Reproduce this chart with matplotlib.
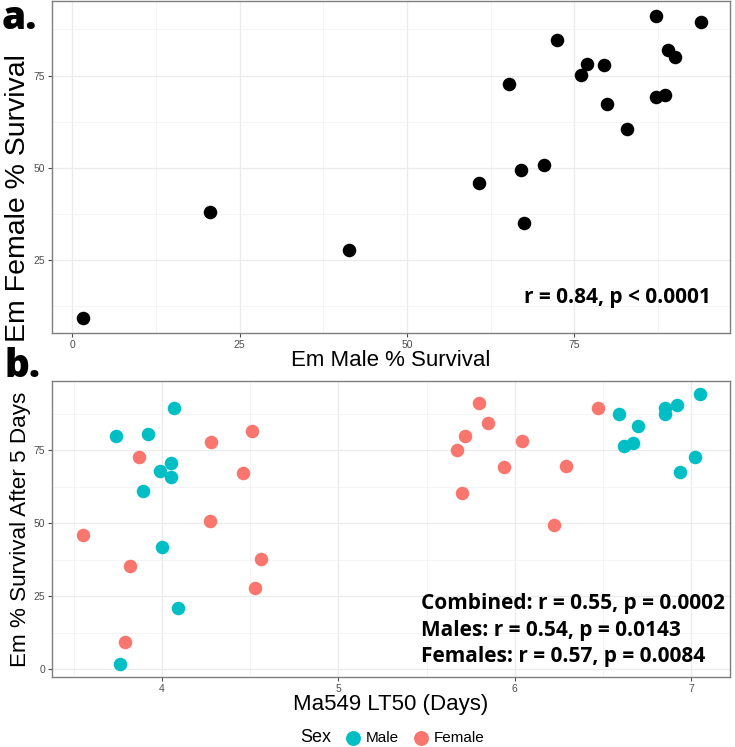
import numpy as np
import matplotlib.pyplot as plt
from matplotlib.ticker import MultipleLocator

# panel a: male vs female survival (%)
male_surv = [1.6, 20.6, 41.4, 87.1, 93.9, 72.4, 76.9, 79.4, 76.0, 89.0,
             90.0, 65.3, 87.1, 88.5, 79.8, 82.9, 70.4, 67.0, 60.7, 67.4]
female_surv = [9.3, 38.0, 27.6, 91.1, 89.5, 84.5, 78.1, 77.9, 75.1, 81.8,
               79.9, 72.7, 69.1, 69.7, 67.2, 60.4, 50.8, 49.5, 45.8, 35.1]

# panel b: LT50 vs survival by sex
male_lt50 = [4.07, 3.74, 3.92, 4.05, 3.99, 4.05, 3.89, 4.00, 4.09, 3.76,
             6.59, 6.70, 6.62, 6.67, 6.85, 6.85, 6.92, 7.05, 7.02, 6.94]
male_em = [89.4, 79.7, 80.4, 70.7, 67.7, 65.7, 61.1, 41.8, 20.9, 1.8,
           87.5, 83.3, 76.4, 77.4, 89.3, 87.5, 90.4, 94.3, 72.7, 67.4]
female_lt50 = [3.87, 4.28, 4.51, 4.46, 4.27, 3.55, 3.82, 4.56, 4.53, 3.79,
               5.80, 5.85, 5.72, 5.67, 6.04, 5.94, 6.29, 5.70, 6.22, 6.47]
female_em = [72.7, 77.8, 81.6, 67.1, 50.8, 45.9, 35.2, 37.8, 27.7, 9.4,
             91.0, 84.3, 79.7, 75.2, 78.2, 69.2, 69.5, 60.3, 49.5, 89.5]

stats_a = "r = 0.84, p < 0.0001"
stats_b = ["Combined: r = 0.55, p = 0.0002",
           "Males: r = 0.54, p = 0.0143",
           "Females: r = 0.57, p = 0.0084"]

MALE_C = "#00BFC4"
FEMALE_C = "#F8766D"
LABEL_FONT = ["Liberation Sans", "DejaVu Sans"]
BOLD_FONT = ["Open Sans", "DejaVu Sans"]


def style_axes(ax):
    ax.set_facecolor("white")
    ax.grid(True, which="major", color="#EBEBEB", linewidth=0.9, zorder=0)
    ax.grid(True, which="minor", color="#F2F2F2", linewidth=0.6, zorder=0)
    ax.set_axisbelow(True)
    for s in ax.spines.values():
        s.set_color("#7F7F7F")
        s.set_linewidth(1.0)
    ax.tick_params(which="major", length=3, width=0.8, color="#4D4D4D",
                   labelsize=7.5, labelcolor="#4D4D4D", pad=2)
    ax.tick_params(which="minor", length=0)
    for lab in ax.get_xticklabels() + ax.get_yticklabels():
        lab.set_family(LABEL_FONT)


fig = plt.figure(figsize=(7.35, 7.47), dpi=100)

# ---- panel a ----
ax1 = fig.add_axes([0.0707, 0.554, 0.9223, 0.4447])
ax1.scatter(male_surv, female_surv, s=95, color="black", zorder=3, linewidths=0)
ax1.set_xlim(-3.0, 98.2)
ax1.set_ylim(5.2, 95.2)
ax1.xaxis.set_major_locator(MultipleLocator(25))
ax1.xaxis.set_minor_locator(MultipleLocator(12.5))
ax1.yaxis.set_major_locator(MultipleLocator(25))
ax1.yaxis.set_minor_locator(MultipleLocator(12.5))
style_axes(ax1)
ax1.set_xlabel("Em Male % Survival", fontsize=16, family=LABEL_FONT, labelpad=0)
ax1.set_ylabel("Em Female % Survival", fontsize=20.5, family=LABEL_FONT)
ax1.yaxis.set_label_coords(-0.031, 0.408)
ax1.text(0.972, 0.108, stats_a, transform=ax1.transAxes, ha="right", va="center",
         fontsize=15, fontweight="bold", family=BOLD_FONT)

# ---- panel b ----
ax2 = fig.add_axes([0.0707, 0.0933, 0.9223, 0.3971])
ax2.scatter(male_lt50, male_em, s=95, color=MALE_C, zorder=3, linewidths=0, label="Male")
ax2.scatter(female_lt50, female_em, s=95, color=FEMALE_C, zorder=3, linewidths=0, label="Female")
ax2.set_xlim(3.376, 7.22)
ax2.set_ylim(-2.8, 98.8)
ax2.xaxis.set_major_locator(MultipleLocator(1))
ax2.xaxis.set_minor_locator(MultipleLocator(0.5))
ax2.yaxis.set_major_locator(MultipleLocator(25))
ax2.yaxis.set_minor_locator(MultipleLocator(12.5))
style_axes(ax2)
ax2.set_xlabel("Ma549 LT50 (Days)", fontsize=16, family=LABEL_FONT, labelpad=0)
ax2.set_ylabel("Em % Survival After 5 Days", fontsize=16.2, family=LABEL_FONT)
ax2.yaxis.set_label_coords(-0.031, 0.5)
for line, yf in zip(stats_b, [0.2495, 0.159, 0.069]):
    ax2.text(0.545, yf, line, transform=ax2.transAxes, ha="left", va="center",
             fontsize=15, fontweight="bold", family=BOLD_FONT)

# panel letters
fig.text(0.002, 1 - 29 / 747, "a.", fontsize=28, fontweight="heavy", family=BOLD_FONT,
         ha="left", va="baseline")
fig.text(0.006, 1 - 377 / 747, "b.", fontsize=28, fontweight="heavy", family=BOLD_FONT,
         ha="left", va="baseline")

# legend
fig.text(300 / 735, 1 - 738 / 747, "Sex", fontsize=13, family=LABEL_FONT,
         ha="left", va="center")
h, l = ax2.get_legend_handles_labels()
fig.legend(h, l, loc="center", bbox_to_anchor=(415 / 735, 1 - 738 / 747), ncol=2,
           frameon=False, prop={"family": LABEL_FONT, "size": 11},
           handletextpad=0.3, columnspacing=1.0, markerscale=1.1,
           borderpad=0, handlelength=1.0)

fig.savefig("out.png", dpi=100)
